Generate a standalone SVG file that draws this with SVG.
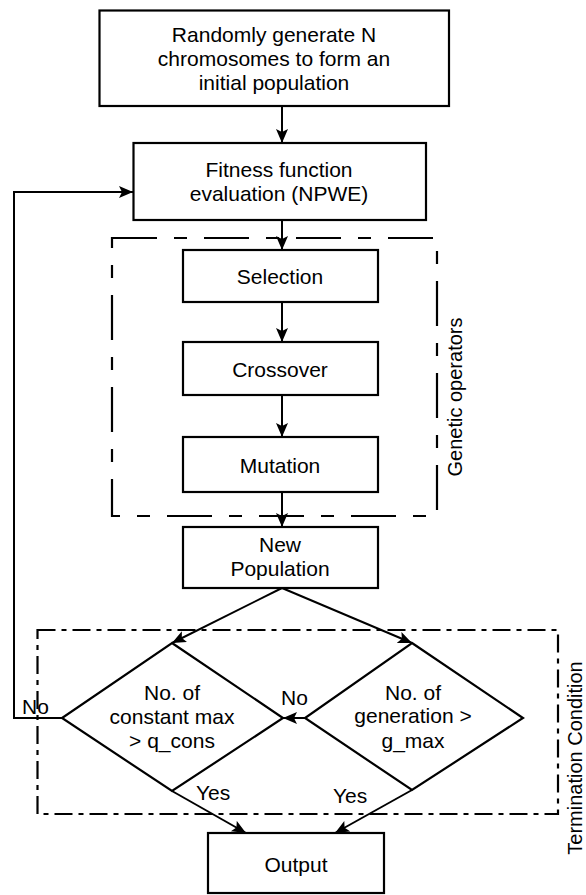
<svg xmlns="http://www.w3.org/2000/svg" width="586" height="895" viewBox="0 0 586 895">
<style>
.box{fill:#fff;stroke:#000;stroke-width:2.2}
.ln{fill:none;stroke:#000;stroke-width:2}
.t{font-family:"Liberation Sans",Arial,sans-serif;font-size:21px;fill:#000;text-anchor:middle}
.l{font-family:"Liberation Sans",Arial,sans-serif;font-size:21px;fill:#000}
.r{font-family:"Liberation Sans",Arial,sans-serif;font-size:20px;fill:#000;text-anchor:middle}
.dash{fill:none;stroke:#000;stroke-width:2.2;stroke-dasharray:45 17 13 17}
.dd{fill:none;stroke:#000;stroke-width:2.2;stroke-dasharray:18 6 5 6}
</style>
<defs>
<marker id="ah" markerUnits="userSpaceOnUse" markerWidth="16" markerHeight="14" refX="14" refY="6" orient="auto">
<path d="M0,0 L14,6 L0,12 L3,6 z" fill="#000"/>
</marker>
</defs>
<rect width="586" height="895" fill="#fff"/>
<g id="groups">
<rect id="genetic-operators-frame" class="dash" x="112" y="238" width="325" height="278"/>
<text class="r" transform="translate(462,397) rotate(-90)">Genetic operators</text>
<rect id="termination-frame" class="dd" x="37.5" y="630" width="520.5" height="184"/>
<text class="r" transform="translate(582,758) rotate(-90)">Termination Condition</text>
</g>
<g id="connectors">
<line class="ln" x1="282" y1="106" x2="282" y2="143" marker-end="url(#ah)"/>
<line class="ln" x1="282" y1="220" x2="282" y2="250" marker-end="url(#ah)"/>
<line class="ln" x1="282" y1="302" x2="282" y2="342" marker-end="url(#ah)"/>
<line class="ln" x1="282" y1="395" x2="282" y2="437" marker-end="url(#ah)"/>
<line class="ln" x1="282" y1="492" x2="282" y2="527" marker-end="url(#ah)"/>
<line class="ln" x1="282" y1="588" x2="172" y2="643" marker-end="url(#ah)"/>
<line class="ln" x1="282" y1="588" x2="412" y2="643" marker-end="url(#ah)"/>
<line class="ln" x1="305" y1="718" x2="283" y2="718" marker-end="url(#ah)"/>
<polyline class="ln" points="62,718 14,718 14,192 133,192" marker-end="url(#ah)"/>
<line class="ln" x1="172" y1="791" x2="246" y2="833" marker-end="url(#ah)"/>
<line class="ln" x1="412" y1="790" x2="335" y2="833" marker-end="url(#ah)"/>
<text class="l" x="22" y="714">No</text>
<text class="l" x="281" y="705">No</text>
<text class="l" x="196" y="800">Yes</text>
<text class="l" x="333" y="803">Yes</text>
</g>
<g id="init">
<rect class="box" x="99.5" y="10.5" width="349.5" height="95.5"/>
<text class="t" x="274" y="42">Randomly generate N</text>
<text class="t" x="274" y="66">chromosomes to form an</text>
<text class="t" x="274" y="90">initial population</text>
</g>
<g id="fitness">
<rect class="box" x="133.5" y="143" width="292.5" height="77"/>
<text class="t" x="279" y="177">Fitness function</text>
<text class="t" x="279" y="201">evaluation (NPWE)</text>
</g>
<g id="selection">
<rect class="box" x="183" y="250" width="195" height="52"/>
<text class="t" x="280" y="284">Selection</text>
</g>
<g id="crossover">
<rect class="box" x="183" y="342" width="195" height="53"/>
<text class="t" x="280" y="377">Crossover</text>
</g>
<g id="mutation">
<rect class="box" x="183" y="437" width="195" height="55"/>
<text class="t" x="280" y="473">Mutation</text>
</g>
<g id="new-population">
<rect class="box" x="183" y="527" width="195" height="61"/>
<text class="t" x="280" y="552">New</text>
<text class="t" x="280" y="576">Population</text>
</g>
<g id="constant-max">
<polygon class="box" points="172,643 283,718 172,791 62,718" fill="none" style="fill:none"/>
<text class="t" x="172" y="700">No. of</text>
<text class="t" x="172" y="724">constant max</text>
<text class="t" x="172" y="748">&gt; q_cons</text>
</g>
<g id="generation">
<polygon class="box" points="412,643 523,718 412,790 305,718" style="fill:none"/>
<text class="t" x="413" y="700">No. of</text>
<text class="t" x="413" y="723">generation &gt;</text>
<text class="t" x="413" y="748">g_max</text>
</g>
<g id="output">
<rect class="box" x="208" y="833" width="176" height="60"/>
<text class="t" x="296" y="872">Output</text>
</g>
</svg>
